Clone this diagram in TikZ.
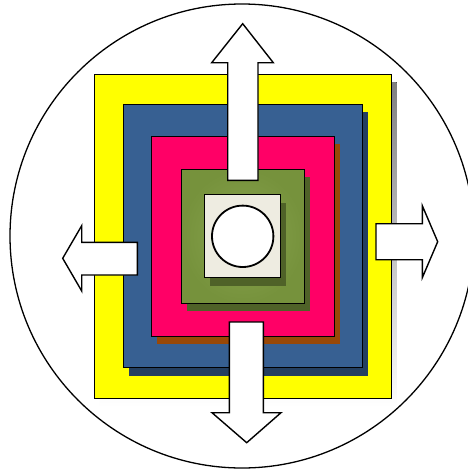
\documentclass[tikz,border=0pt]{standalone}
\usepackage{tikz}
\usetikzlibrary{calc}
\definecolor{sunyellow}{HTML}{FFFF00}
\definecolor{steel}{HTML}{376092}
\definecolor{steeldark}{HTML}{243F60}
\definecolor{rose}{HTML}{FF0066}
\definecolor{rust}{HTML}{984807}
\definecolor{olive}{HTML}{76923C}
\definecolor{olivelight}{HTML}{88A34E}
\definecolor{olivedark}{HTML}{4F6228}
\definecolor{cream}{HTML}{EEECE1}
\definecolor{shade}{HTML}{808080}
\tikzset{
  layer/.style={draw=black,line width=0.8pt},
  blockarrow/.style={fill=white,draw=black,line width=1.4pt,line join=miter}
}
\begin{document}
\begin{tikzpicture}[x=1pt,y=-1pt]
  \useasboundingbox (0,0) rectangle (468,474);
  \clip (0,0) rectangle (468,474);
  % outer ring
  \draw[line width=1.3pt,fill=white] (242,236) circle (232);
  % nested squares with their drop shadows
  \foreach \xa/\ya/\xb/\yb/\col/\shcol in {
    94.3/74.3/391/398.3/sunyellow/shade,
    123.3/104.3/362.3/367.7/steel/steeldark,
    151.3/136.3/334.3/336.3/rose/rust} {
    \fill[\shcol] (\xa+5.5,\ya+8) rectangle (\xb+5.5,\yb+8);
    \fill[\col,layer] (\xa,\ya) rectangle (\xb,\yb);
  }
  \fill[olivedark] (187.3,177.3) rectangle (310,311.3);
  \shade[inner color=olivelight,outer color=olive] (181.3,169.3) rectangle (304.3,303.3);
  \draw[layer] (181.3,169.3) rectangle (304.3,303.3);
  \fill[olivedark] (210.2,202.7) rectangle (286,285.7);
  \fill[cream,layer] (204.7,194.7) rectangle (280.7,277.3);
  \draw[line width=1.8pt,fill=white] (242.7,236.3) circle (30.7);
  % block arrows
  \draw[blockarrow] (227.7,180.3) -- (227.7,62.7) -- (211.7,62.7) -- (242.7,23.7)
    -- (273.3,62.7) -- (258,62.7) -- (258,180.3) -- cycle;
  \draw[blockarrow] (229.3,322) -- (229.3,412.7) -- (212,412.7) -- (246.7,442.7)
    -- (281,412.7) -- (263.3,412.7) -- (263.3,322) -- cycle;
  \draw[blockarrow] (137.3,242.3) -- (81.7,242.3) -- (81.7,225.7) -- (62.7,258.3)
    -- (81.7,291) -- (81.7,275) -- (137.3,275) -- cycle;
  \draw[blockarrow] (376,223.7) -- (422.3,223.7) -- (422.3,205.7) -- (437.7,241.7)
    -- (422.3,277.7) -- (422.3,259.7) -- (376,259.7) -- cycle;
\end{tikzpicture}
\end{document}
